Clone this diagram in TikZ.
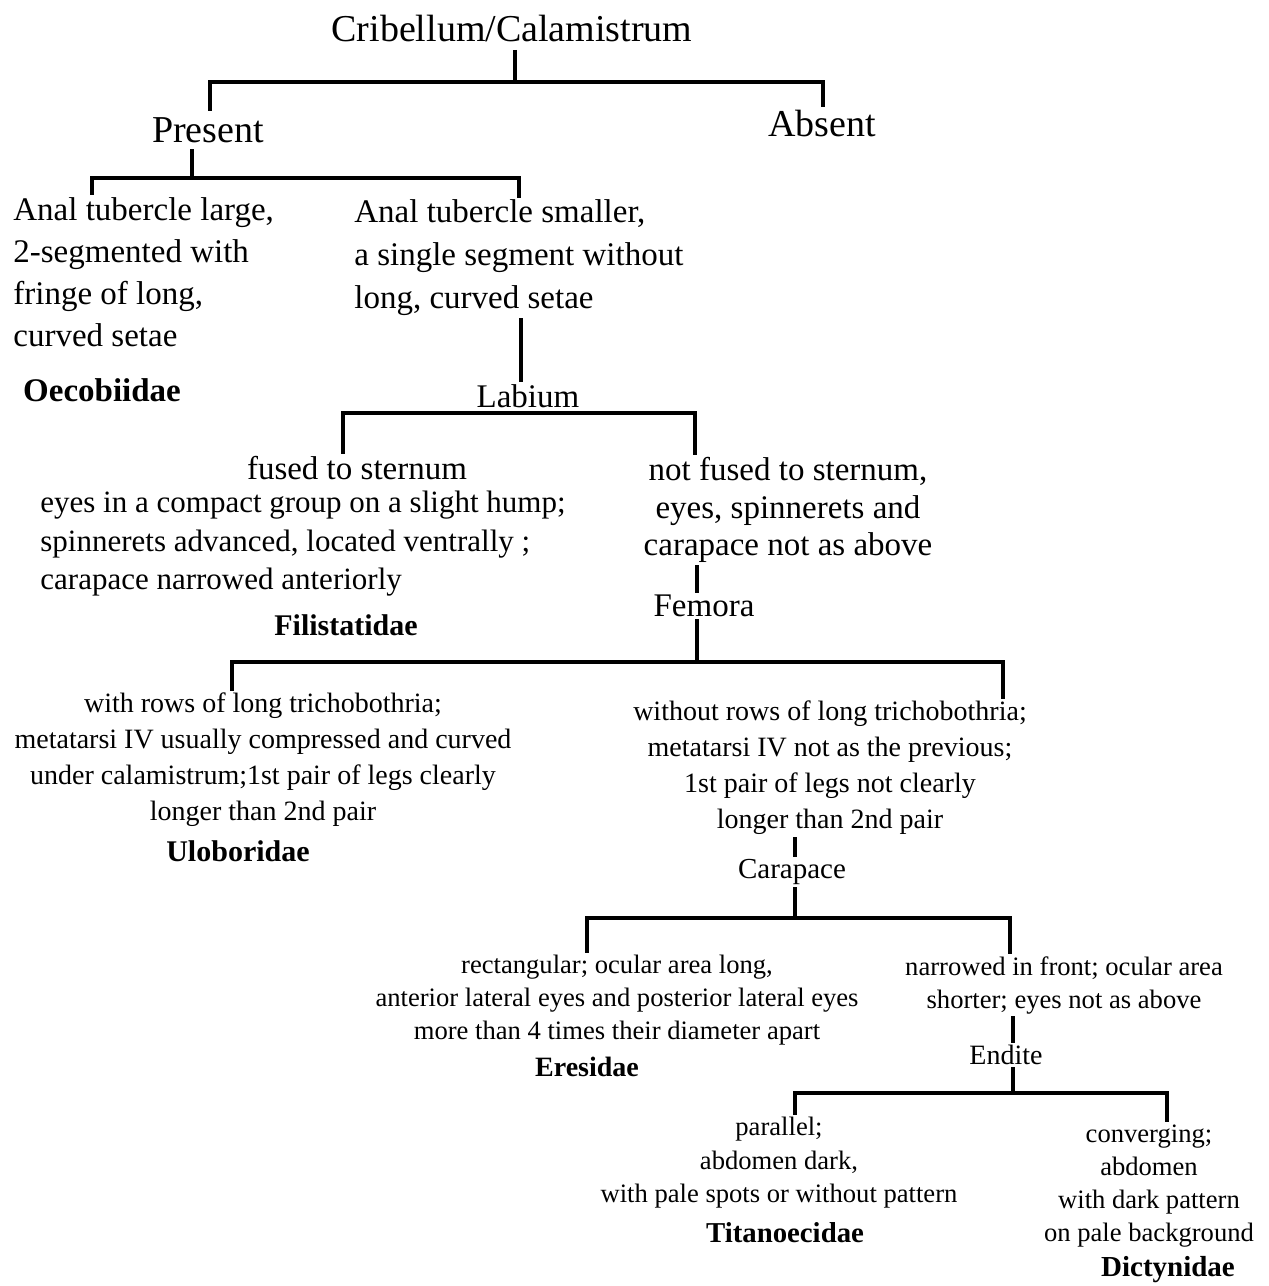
\documentclass[tikz,border=0pt]{standalone}
\usepackage{fontspec}
\setmainfont{Liberation Serif}

\begin{document}
\begin{tikzpicture}[
	branch/.style={line width=1.6pt, line cap=butt},
	txt/.style 2 args={inner sep=1pt, font=\fontsize{#1}{#2}\selectfont},
	family/.style={inner sep=1pt, font=\fontsize{#1}{#1}\selectfont\bfseries}
]

\begin{scope}[x=0.5pt,y=-0.5pt]
\useasboundingbox (0,0) rectangle (1269,1286);

% headings
\node[txt={19}{23},inner sep=4pt] (title) at (512,28) {Cribellum/Calamistrum};
\node[txt={19}{23},inner sep=3pt] (present) at (208,130) {Present};
\node[txt={19}{23}] (absent) at (822,123) {Absent};

\node[txt={16.5}{21},align=left,anchor=west] (large) at (11,272) {Anal tubercle large,\\2-segmented with\\fringe of long,\\curved setae};
\node[txt={16.5}{21.5},align=left,anchor=west] (smaller) at (352,258) {Anal tubercle smaller,\\a single segment without\\long, curved setae};
\node[txt={16.5}{20}] (labium) at (528,396) {Labium};

\node[txt={16.5}{20}] (fused) at (357,468) {fused to sternum};
\node[txt={15.5}{19.25},align=left,anchor=west] (fusedtxt) at (38,544) {eyes in a compact group on a slight hump;\\spinnerets advanced, located ventrally ;\\carapace narrowed anteriorly};
\node[txt={16.5}{18.75},align=center] (notfused) at (788,510) {not fused to sternum,\\eyes, spinnerets and\\carapace not as above};
\node[txt={16.5}{20}] (femora) at (704,606) {Femora};

\node[txt={14}{18},align=center] (rows) at (263,760) {with rows of long trichobothria;\\metatarsi IV usually compressed and curved\\under calamistrum;1st pair of legs clearly\\longer than 2nd pair};
\node[txt={14}{18},align=center] (norows) at (830,768) {without rows of long trichobothria;\\metatarsi IV not as the previous;\\1st pair of legs not clearly\\longer than 2nd pair};
\node[txt={14.5}{18}] (carapace) at (792,872) {Carapace};

\node[txt={13.3}{16.5},align=center] (rect) at (617,1000) {rectangular; ocular area long,\\anterior lateral eyes and posterior lateral eyes\\more than 4 times their diameter apart};
\node[txt={13.3}{16.5},align=center] (narrow) at (1064,985) {narrowed in front; ocular area\\shorter; eyes not as above};
\node[txt={14}{18}] (endite) at (1006,1055) {Endite};

\node[txt={13.3}{16.75},align=center] (parallel) at (779,1163) {parallel;\\abdomen dark,\\with pale spots or without pattern};
\node[txt={13.3}{16.6},align=center] (converging) at (1149,1186) {converging;\\abdomen\\with dark pattern\\on pale background};

% families
\foreach \fam/\x/\y/\s in {
	Oecobiidae/102/390/16.5
	,Filistatidae/346/625/15
	,Uloboridae/238/851/15
	,Eresidae/587/1067/14
	,Titanoecidae/785/1233/14.4
	,Dictynidae/1168/1270/14.5
}{
	\node[family=\s] (\fam) at (\x,\y) {\fam};
}

% bars
\coordinate (tM) at (515,82);
\coordinate (tL) at (210,82);
\coordinate (tR) at (823,82);
\draw[branch] (title.south -| tM) -- (tM);
\draw[branch] (present.north -| tL) |- (tR) -- (absent.north -| tR);

\coordinate (pM) at (192,178);
\coordinate (pL) at (92,178);
\coordinate (pR) at (519,178);
\draw[branch] (present.south -| pM) -- (pM);
\draw[branch] (large.north -| pL) |- (pR) -- (smaller.north -| pR);

\coordinate (lM) at (521,413);
\coordinate (lL) at (343,413);
\coordinate (lR) at (695,413);
\draw[branch] (smaller.south -| lM) -- (labium.north -| lM);
\draw[branch] (fused.north -| lL) |- (lR) -- (notfused.north -| lR);

\coordinate (fM) at (697,662);
\coordinate (fL) at (232,662);
\coordinate (fR) at (1003,662);
\draw[branch] (notfused.south -| fM) -- (femora.north -| fM);
\draw[branch] (femora.south -| fM) -- (fM);
\draw[branch] (rows.north -| fL) |- (fR) -- (norows.north -| fR);

\coordinate (cM) at (795,918);
\coordinate (cL) at (587,918);
\coordinate (cR) at (1010,918);
\draw[branch] (norows.south -| cM) -- (carapace.north -| cM);
\draw[branch] (carapace.south -| cM) -- (cM);
\draw[branch] (rect.north -| cL) |- (cR) -- (narrow.north -| cR);

\coordinate (eM) at (1013,1093);
\coordinate (eL) at (795,1093);
\coordinate (eR) at (1167,1093);
\draw[branch] (narrow.south -| eM) -- (endite.north -| eM);
\draw[branch] (endite.south -| eM) -- (eM);
\draw[branch] (parallel.north -| eL) |- (eR) -- (converging.north -| eR);
\end{scope}

\end{tikzpicture}
\end{document}
